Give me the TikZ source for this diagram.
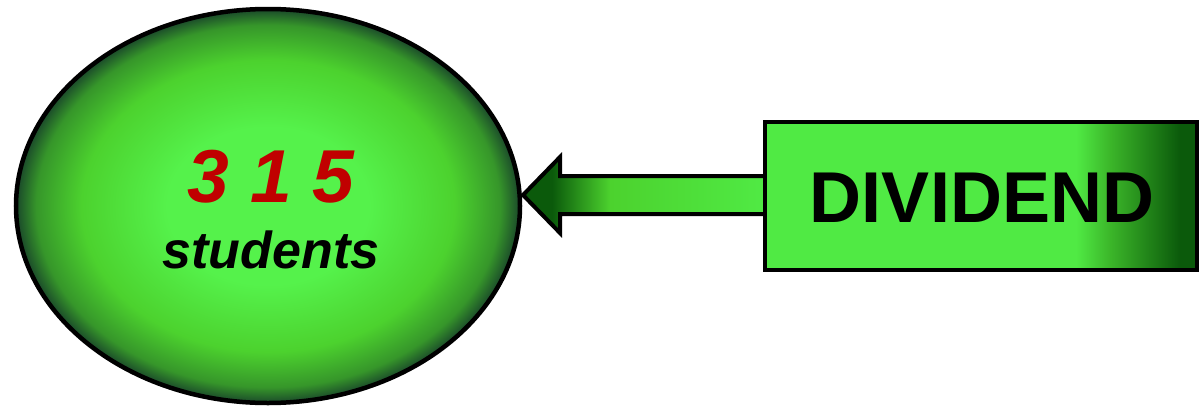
\documentclass[tikz,border=0pt]{standalone}
\usepackage{fontspec}
\setmainfont{Liberation Sans}
\usetikzlibrary{shapes.geometric}
\definecolor{cLight}{HTML}{55F24B}
\definecolor{cMid}{HTML}{4CD22E}
\definecolor{cMid2}{HTML}{36962A}
\definecolor{cEdge}{HTML}{1A482A}
\definecolor{rLight}{HTML}{50EA44}
\definecolor{rMid}{HTML}{3BB529}
\definecolor{rDark}{HTML}{0B5A0B}
\definecolor{numred}{HTML}{C00000}
\pgfdeclareradialshading{ellshade}{\pgfpoint{0bp}{0bp}}{color(0bp)=(cLight); color(10bp)=(cLight); color(18.5bp)=(cMid); color(23bp)=(cMid2); color(25bp)=(cEdge); color(50bp)=(cEdge)}
\pgfdeclarehorizontalshading{rectshade}{100bp}{color(0bp)=(rLight); color(61bp)=(rLight); color(65bp)=(rMid); color(73bp)=(rDark); color(100bp)=(rDark)}
\pgfdeclarehorizontalshading{arrshade}{100bp}{color(0bp)=(rDark); color(31bp)=(rDark); color(43bp)=(cMid); color(75bp)=(rLight); color(100bp)=(rLight)}
\tikzset{
  outl/.style={draw=black, line width=4pt, line join=miter},
  bigtxt/.style={font=\fontsize{75}{80}\selectfont\bfseries\itshape, inner sep=0pt, anchor=base},
}
\begin{document}
\begin{tikzpicture}[x=1pt,y=-1pt]
\useasboundingbox (0,0) rectangle (1200,407);
\node[outl, shading=rectshade, rectangle, minimum width=432pt, minimum height=148pt, inner sep=0pt, outer sep=0pt] (div) at (981,196) {};
\node[outl, line width=4.5pt, shading=ellshade, ellipse, minimum width=504pt, minimum height=394pt, inner sep=0pt, outer sep=0pt] (ell) at (268,206) {};
\coordinate (tip) at (523,195);
\draw[outl, shading=arrshade] (tip) -- (560,157) -- (560,176) -- (div.west |- 0,176) -- (div.west |- 0,214) -- (560,214) -- (560,233) -- cycle;
\node[outl, shading=rectshade, rectangle, minimum width=432pt, minimum height=148pt, inner sep=0pt, outer sep=0pt] at (div) {};
\node[bigtxt, text=numred] (num) at (271,202) {3 1 5};
\node[bigtxt, font=\fontsize{52}{56}\selectfont\bfseries\itshape] (stu) at (271,268) {students};
\node[inner sep=0pt, anchor=base, font=\fontsize{72}{76}\selectfont\bfseries] (dtxt) at (982,222) {DIVIDEND};
\end{tikzpicture}
\end{document}
